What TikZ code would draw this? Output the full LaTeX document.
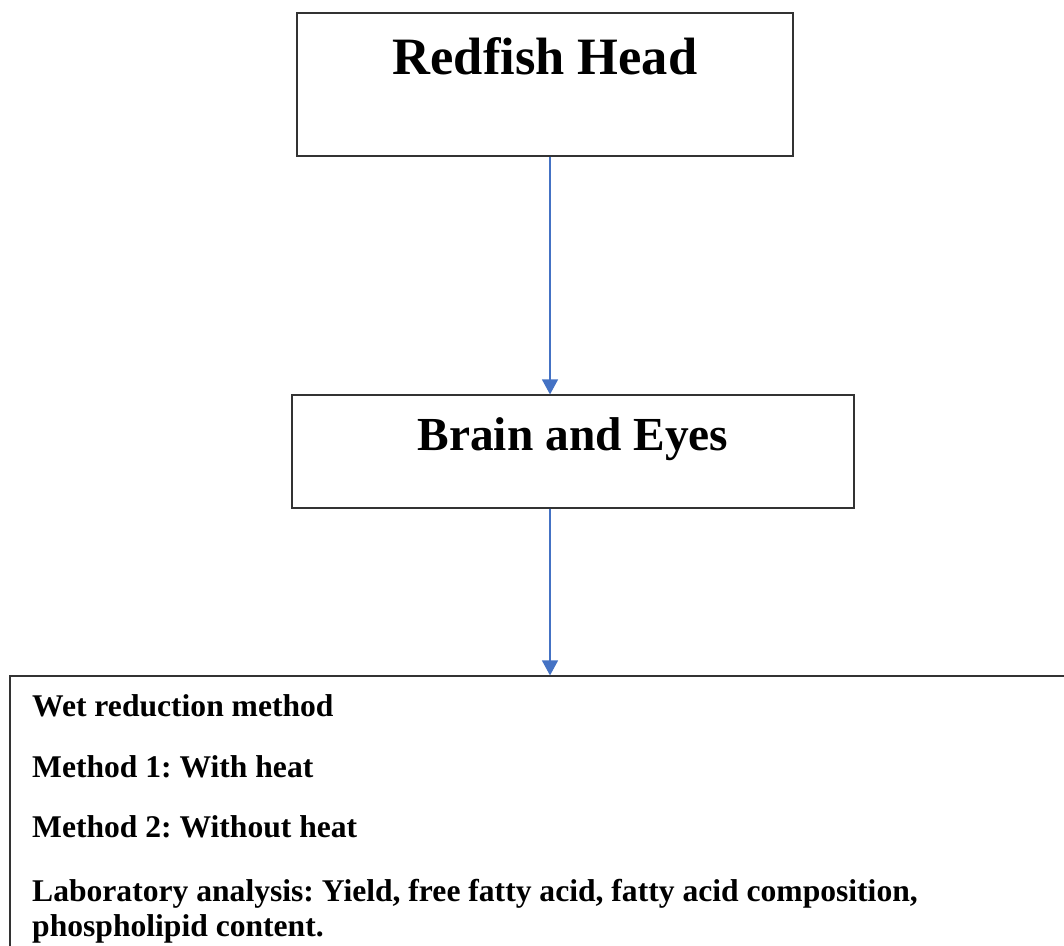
\documentclass[tikz,border=0pt]{standalone}
\usepackage{fontspec}
\setmainfont{Liberation Serif}
\usetikzlibrary{arrows.meta}
\definecolor{arrowblue}{HTML}{4472C4}
\definecolor{boxline}{HTML}{333333}
\frenchspacing
\begin{document}
\begin{tikzpicture}[x=1pt,y=-1pt,
  box/.style={draw=boxline, line width=1.2pt, rectangle, inner sep=0pt},
  conn/.style={draw=arrowblue, line width=1.2pt, -{Triangle[width=16pt,length=15pt]}},
  title/.style={anchor=base, font=\frenchspacing\bfseries\fontsize{52.5}{60}\selectfont},
  sub/.style={anchor=base, font=\frenchspacing\bfseries\fontsize{47.4}{54}\selectfont},
  body/.style={anchor=base west, font=\frenchspacing\bfseries\fontsize{31.6}{34}\selectfont, inner sep=0pt}]
\useasboundingbox (0,0) rectangle (1064,945);
\fill[white] (0,0) rectangle (1064,945);
% boxes
\node[box, minimum width=496pt, minimum height=143pt] (b1) at (545,84.5) {};
\node[box, minimum width=562pt, minimum height=113pt] (b2) at (573,451.5) {};
\node[box, minimum width=1090pt, minimum height=324pt] (b3) at (555,838) {};
% texts
\node[title] (t1) at (545,74) {Redfish Head};
\node[sub] (t2) at (573,450) {Brain and Eyes};
\node[body] (l1) at (32,716) {Wet reduction method};
\node[body] (l2) at (32,777) {Method 1: With heat};
\node[body] (l3) at (32,837) {Method 2: Without heat};
\node[body] (l4) at (32,901) {Laboratory analysis: Yield, free fatty acid, fatty acid composition,};
\node[body] (l5) at (32,936) {phospholipid content.};
% connectors
\coordinate (ax) at (550,0);
\draw[conn] (b1.south -| ax) -- (b2.north -| ax);
\draw[conn] (b2.south -| ax) -- (b3.north -| ax);
\end{tikzpicture}
\end{document}
